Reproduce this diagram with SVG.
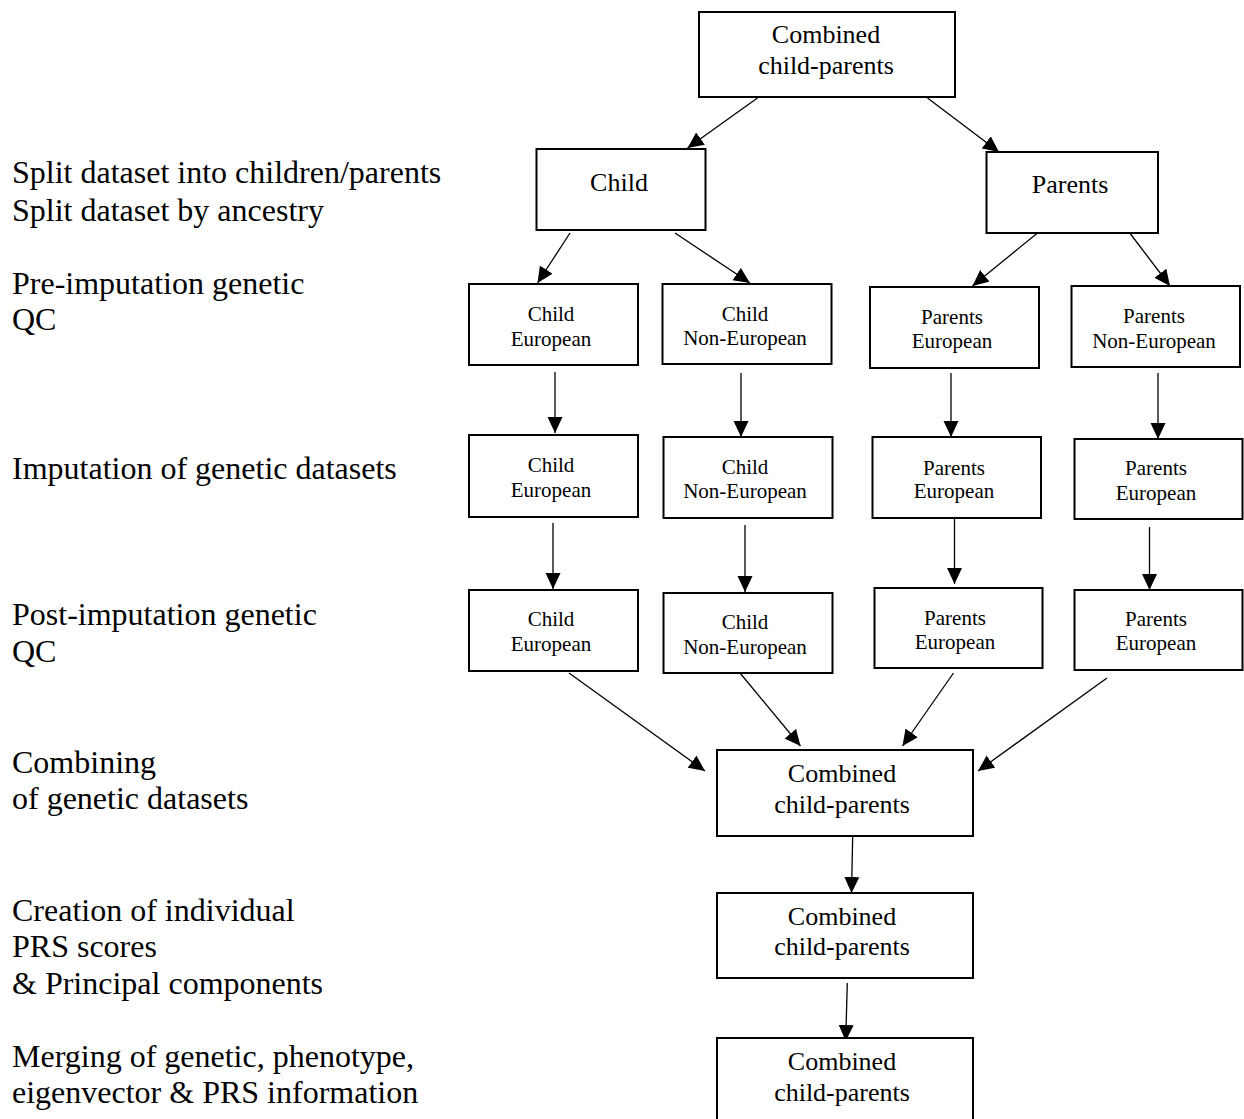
<svg xmlns="http://www.w3.org/2000/svg" width="1244" height="1119" viewBox="0 0 1244 1119">
<style>
text{font-family:"Liberation Serif","Times New Roman",serif;fill:#000}
.lbl{font-size:32px}
.big{font-size:26px;text-anchor:middle}
.sm{font-size:21px;text-anchor:middle}
rect{fill:#fff;stroke:#000;stroke-width:2}
.conn line{stroke:#000;stroke-width:1.3;marker-end:url(#ah)}
</style>
<defs>
<marker id="ah" markerUnits="userSpaceOnUse" markerWidth="17" markerHeight="16" refX="16" refY="8" orient="auto" viewBox="0 0 17 16">
<path d="M0,0.5 L16,8 L0,15.5 z" fill="#000"/>
</marker>
</defs>
<rect x="0" y="0" width="1244" height="1119" style="fill:#fff;stroke:none"/>
<g id="labels">
<text class="lbl" x="12" y="183">Split dataset into children/parents</text>
<text class="lbl" x="12" y="221">Split dataset by ancestry</text>
<text class="lbl" x="12" y="294">Pre-imputation genetic</text>
<text class="lbl" x="12" y="330">QC</text>
<text class="lbl" x="12" y="479">Imputation of genetic datasets</text>
<text class="lbl" x="12" y="625">Post-imputation genetic</text>
<text class="lbl" x="12" y="662">QC</text>
<text class="lbl" x="12" y="773">Combining</text>
<text class="lbl" x="12" y="809">of genetic datasets</text>
<text class="lbl" x="12" y="921">Creation of individual</text>
<text class="lbl" x="12" y="957">PRS scores</text>
<text class="lbl" x="12" y="994">&amp; Principal components</text>
<text class="lbl" x="12" y="1067">Merging of genetic, phenotype,</text>
<text class="lbl" x="12" y="1103">eigenvector &amp; PRS information</text>
</g>
<g class="conn" id="connectors">
<line x1="757.5" y1="98" x2="687.5" y2="148"/>
<line x1="927.5" y1="98" x2="999" y2="152"/>
<line x1="570" y1="233" x2="537.5" y2="283"/>
<line x1="675" y1="233" x2="750" y2="283"/>
<line x1="1037.5" y1="233" x2="972.5" y2="286"/>
<line x1="1127.5" y1="230" x2="1170" y2="286"/>
<line x1="555" y1="372" x2="555" y2="433"/>
<line x1="741" y1="373" x2="741" y2="437"/>
<line x1="951" y1="373" x2="951" y2="437"/>
<line x1="1158" y1="373" x2="1158" y2="439"/>
<line x1="553" y1="523" x2="553" y2="589"/>
<line x1="745" y1="525" x2="745" y2="592"/>
<line x1="954.5" y1="518" x2="954.5" y2="584"/>
<line x1="1149.5" y1="527" x2="1149.5" y2="590"/>
<line x1="569" y1="673" x2="705" y2="771"/>
<line x1="740" y1="673" x2="800.5" y2="746"/>
<line x1="953.5" y1="673" x2="902.5" y2="746"/>
<line x1="1107" y1="678" x2="978" y2="771"/>
<line x1="852.7" y1="836" x2="851.5" y2="893"/>
<line x1="847.3" y1="983" x2="845.7" y2="1041"/>
</g>
<g id="n-top"><rect x="699" y="12" width="256" height="85"/><text class="big" x="826" y="43">Combined</text><text class="big" x="826" y="74">child-parents</text></g>
<g id="n-child"><rect x="536.5" y="149" width="169" height="81"/><text class="big" x="619" y="191">Child</text></g>
<g id="n-parents"><rect x="986.5" y="152" width="171.5" height="81"/><text class="big" x="1070" y="193">Parents</text></g>
<g id="n-r1-ce"><rect x="469" y="284" width="169" height="81"/><text class="sm" x="551" y="321">Child</text><text class="sm" x="551" y="346">European</text></g>
<g id="n-r1-cne"><rect x="662.5" y="284" width="169" height="80"/><text class="sm" x="745" y="321">Child</text><text class="sm" x="745" y="345">Non-European</text></g>
<g id="n-r1-pe"><rect x="870" y="287" width="169" height="81"/><text class="sm" x="952" y="324">Parents</text><text class="sm" x="952" y="348">European</text></g>
<g id="n-r1-pne"><rect x="1071.5" y="286" width="168.5" height="81"/><text class="sm" x="1154" y="323">Parents</text><text class="sm" x="1154" y="348">Non-European</text></g>
<g id="n-r2-ce"><rect x="469" y="435" width="169" height="82"/><text class="sm" x="551" y="472">Child</text><text class="sm" x="551" y="497">European</text></g>
<g id="n-r2-cne"><rect x="663.5" y="437" width="169" height="81"/><text class="sm" x="745" y="474">Child</text><text class="sm" x="745" y="498">Non-European</text></g>
<g id="n-r2-pe"><rect x="872.5" y="437" width="168.5" height="81"/><text class="sm" x="954" y="475">Parents</text><text class="sm" x="954" y="498">European</text></g>
<g id="n-r2-pe2"><rect x="1074.5" y="439" width="168" height="80"/><text class="sm" x="1156" y="475">Parents</text><text class="sm" x="1156" y="500">European</text></g>
<g id="n-r3-ce"><rect x="469" y="590" width="169" height="81"/><text class="sm" x="551" y="626">Child</text><text class="sm" x="551" y="651">European</text></g>
<g id="n-r3-cne"><rect x="663.5" y="593" width="169" height="80"/><text class="sm" x="745" y="629">Child</text><text class="sm" x="745" y="654">Non-European</text></g>
<g id="n-r3-pe"><rect x="874.5" y="588" width="168" height="80"/><text class="sm" x="955" y="625">Parents</text><text class="sm" x="955" y="649">European</text></g>
<g id="n-r3-pe2"><rect x="1074.5" y="590" width="168" height="80"/><text class="sm" x="1156" y="626">Parents</text><text class="sm" x="1156" y="650">European</text></g>
<g id="n-comb1"><rect x="717" y="750" width="256" height="86"/><text class="big" x="842" y="782">Combined</text><text class="big" x="842" y="813">child-parents</text></g>
<g id="n-comb2"><rect x="717" y="893" width="256" height="85"/><text class="big" x="842" y="925">Combined</text><text class="big" x="842" y="955">child-parents</text></g>
<g id="n-comb3"><rect x="717" y="1038" width="256" height="100"/><text class="big" x="842" y="1070">Combined</text><text class="big" x="842" y="1101">child-parents</text></g>
</svg>
